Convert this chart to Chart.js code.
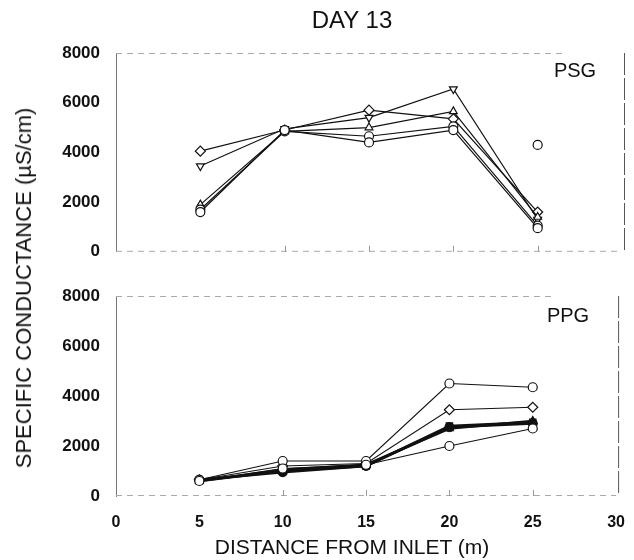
<!DOCTYPE html>
<html>
<head>
<meta charset="utf-8">
<script src="https://cdn.jsdelivr.net/npm/chart.js@4/dist/chart.umd.min.js"></script>
<style>
  html, body { margin: 0; padding: 0; background: #fff; }
  #wrap { position: relative; width: 634px; height: 560px; background: #fff; font-family: "Liberation Sans", Arial, sans-serif; color: #111; overflow: hidden; }
  canvas { position: absolute; left: 0; }
  .txt { position: absolute; white-space: nowrap; color: #111; }
</style>
</head>
<body>
<div id="wrap">
  <canvas id="top" width="634" height="270" style="top:0px"></canvas>
  <canvas id="bot" width="634" height="290" style="top:270px"></canvas>
  <div class="txt" id="title" style="left:352px; top:20px; transform:translate(-50%,-50%); font-size:24px;">DAY 13</div>
  <div class="txt" id="ytitle" style="left:24px; top:288px; transform:translate(-50%,-50%) rotate(-90deg); font-size:22px;">SPECIFIC CONDUCTANCE (µS/cm)</div>
  <div class="txt" id="xtitle" style="left:352px; top:547px; transform:translate(-50%,-50%); font-size:21px;">DISTANCE FROM INLET (m)</div>
  <div class="txt" style="left:575px; top:70px; transform:translate(-50%,-50%); font-size:20px;">PSG</div>
  <div class="txt" style="left:568px; top:315px; transform:translate(-50%,-50%); font-size:20px;">PPG</div>
</div>
<script>
// ---- data ----
const distances = [5, 10, 15, 20, 25];
const xTicks = [0, 5, 10, 15, 20, 25, 30];
const yTicks = [0, 2000, 4000, 6000, 8000];

// PSG panel
const psgDiamond = [4050, 4900, 5700, 5350, 1600];
const psgTriDown = [3450, 4950, 5400, 6550, 1300];
const psgTriUp   = [1900, 4850, 5000, 5650, 1400];
const psgCircleA = [1700, 4850, 4650, 5050, 1050];
const psgCircleB = [1600, 4900, 4400, 4900, 950];
const psgOutlierX = [25];
const psgOutlierY = [4300];

// PPG panel
const ppgCircleA = [650, 1400, 1400, 4500, 4350];
const ppgDiamond = [650, 1200, 1300, 3450, 3550];
const ppgSquare  = [600, 1000, 1200, 2800, 2950];
const ppgDot     = [650, 950, 1200, 2750, 2900];
const ppgTri     = [600, 1050, 1250, 2700, 3000];
const ppgCircleB = [600, 1100, 1250, 2000, 2700];

const toPts = (xs, ys) => xs.map((x, i) => ({ x: x, y: ys[i] }));

function ds(values, style, opts) {
  opts = opts || {};
  return Object.assign({
    data: toPts(distances, values),
    borderColor: '#111',
    borderWidth: 1.2,
    pointStyle: style,
    pointRadius: 4.5,
    pointBackgroundColor: '#fff',
    pointBorderColor: '#111',
    pointBorderWidth: 1.2,
    tension: 0
  }, opts);
}

const framePlugin = {
  id: 'frame',
  beforeDatasetsDraw(chart) {
    const a = chart.chartArea, ctx = chart.ctx, xs = chart.scales.x;
    ctx.save();
    ctx.strokeStyle = '#aaa'; ctx.lineWidth = 1; ctx.setLineDash([6, 5]);
    ctx.beginPath(); ctx.moveTo(a.left, a.top + 0.5); ctx.lineTo(a.right - 60, a.top + 0.5); ctx.stroke();
    ctx.beginPath(); ctx.moveTo(a.left, a.bottom - 0.5); ctx.lineTo(a.right, a.bottom - 0.5); ctx.stroke();
    ctx.strokeStyle = '#555'; ctx.setLineDash([22, 3]);
    ctx.beginPath(); ctx.moveTo(a.right + 2.5, a.top); ctx.lineTo(a.right + 2.5, a.bottom); ctx.stroke();
    ctx.setLineDash([]); ctx.strokeStyle = '#999';
    [10, 15, 20, 25].forEach(v => {
      const px = Math.round(xs.getPixelForValue(v)) + 0.5;
      ctx.beginPath(); ctx.moveTo(px, a.bottom); ctx.lineTo(px, a.bottom - 6); ctx.stroke();
    });
    ctx.restore();
  }
};

const tickFont = { family: '"Liberation Sans", Arial, sans-serif', size: 16, weight: 'bold' };

function baseOptions(showX, padTop, xHeight) {
  return {
    responsive: false,
    animation: false,
    devicePixelRatio: 1,
    layout: { padding: { top: padTop, right: 12, bottom: 0, left: 0 } },
    plugins: { legend: { display: false }, tooltip: { enabled: false } },
    scales: {
      x: {
        type: 'linear', min: 0, max: 30,
        afterBuildTicks: s => { s.ticks = xTicks.map(v => ({ value: v })); },
        afterFit: s => { s.height = xHeight; },
        grid: { display: false },
        border: { display: false },
        ticks: {
          display: showX, color: '#111', padding: 9, maxRotation: 0,
          callback: v => String(v),
          font: tickFont
        }
      },
      y: {
        type: 'linear', min: 0, max: 8000,
        afterBuildTicks: s => { s.ticks = yTicks.map(v => ({ value: v })); },
        afterFit: s => { s.width = 116; },
        grid: { display: false },
        border: { display: true, color: '#777', width: 1 },
        ticks: {
          color: '#111', padding: 8,
          callback: v => String(v),
          font: { family: '"Liberation Sans", Arial, sans-serif', size: 17, weight: 'bold' }
        }
      }
    }
  };
}

new Chart(document.getElementById('top'), {
  type: 'line',
  data: {
    datasets: [
      ds(psgCircleB, 'circle'),
      ds(psgCircleA, 'circle'),
      ds(psgTriUp, 'triangle'),
      ds(psgDiamond, 'rectRot', { pointRadius: 5 }),
      ds(psgTriDown, 'triangle', { pointRotation: 180 }),
      {
        data: toPts(psgOutlierX, psgOutlierY), showLine: false,
        pointStyle: 'circle', pointRadius: 4.5, pointBackgroundColor: '#fff',
        pointBorderColor: '#111', pointBorderWidth: 1.2
      }
    ]
  },
  options: baseOptions(false, 53, 16),
  plugins: [framePlugin]
});

new Chart(document.getElementById('bot'), {
  type: 'line',
  data: {
    datasets: [
      ds(ppgCircleB, 'circle'),
      ds(ppgCircleA, 'circle'),
      ds(ppgDiamond, 'rectRot', { pointRadius: 5 }),
      ds(ppgTri, 'triangle', { borderWidth: 2.5, pointBackgroundColor: '#111' }),
      ds(ppgDot, 'circle', { borderWidth: 2.5, pointBackgroundColor: '#111' }),
      ds(ppgSquare, 'rect', { borderWidth: 2.5, pointBackgroundColor: '#111' })
    ]
  },
  options: baseOptions(true, 26, 64),
  plugins: [framePlugin]
});
</script>
</body>
</html>
